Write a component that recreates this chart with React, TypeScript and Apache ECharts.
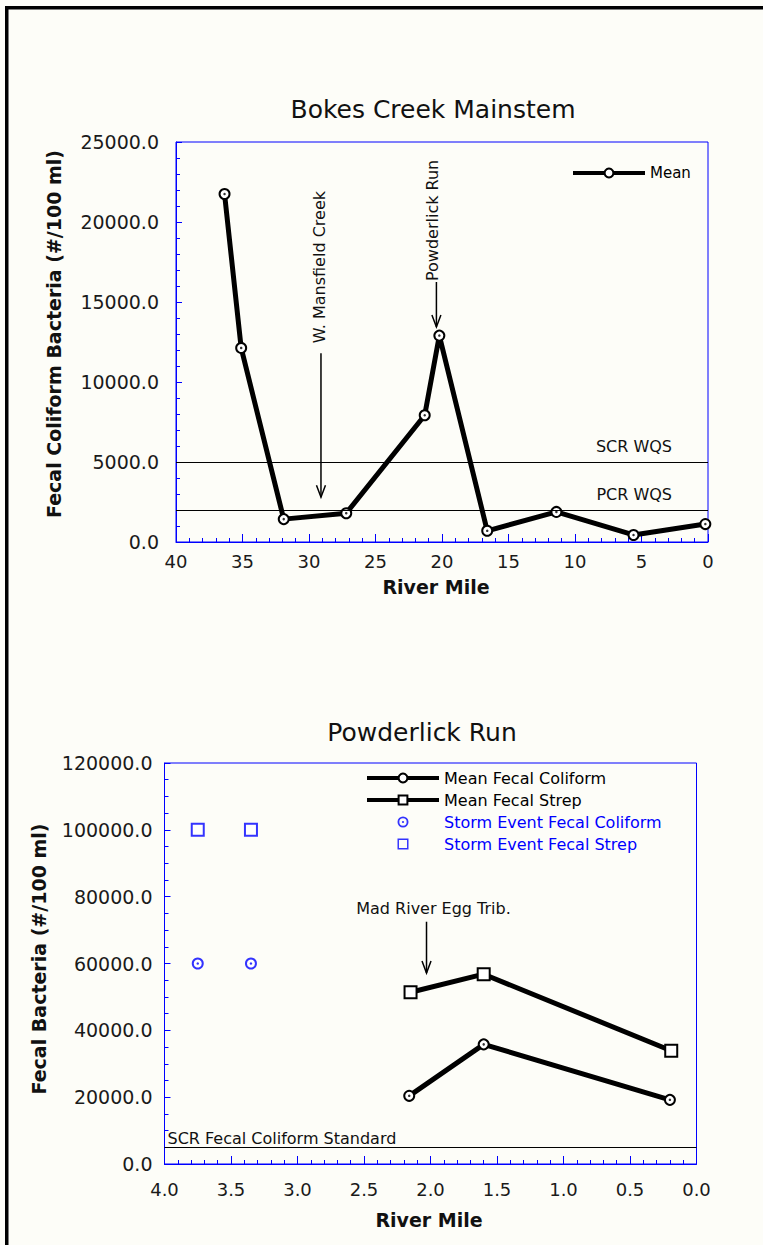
import React, { useEffect, useRef } from 'react';
import * as echarts from 'echarts';

const FONT = 'DejaVu Sans';
const BLUE = '#0000ff';
const BG = '#fdfdf8';

// ---- Top chart: Bokes Creek Mainstem ----
const topRiverMile = [36.35, 35.1, 31.9, 27.2, 21.3, 20.2, 16.6, 11.4, 5.6, 0.2];
const topMean = [21750, 12130, 1430, 1800, 7920, 12900, 700, 1880, 440, 1120];
const topStdNames = ['SCR WQS', 'PCR WQS'];
const topStdValues = [5000, 2000];
const topArrowLabels = ['W. Mansfield Creek', 'Powderlick Run'];
const topArrowMiles = [29.1, 20.42];
const topArrowFrom = [11800, 16250];
const topArrowTo = [2800, 13440];

// ---- Bottom chart: Powderlick Run ----
const fcRiverMile = [2.16, 1.6, 0.2];
const fcMean = [20400, 35800, 19200];
const fsRiverMile = [2.15, 1.6, 0.19];
const fsMean = [51400, 56800, 33900];
const stormFcRiverMile = [3.75, 3.35];
const stormFc = [60000, 60000];
const stormFsRiverMile = [3.75, 3.35];
const stormFs = [100000, 100000];
const botStdName = 'SCR Fecal Coliform Standard';
const botStdValue = 5000;
const botArrowLabel = 'Mad River Egg Trib.';
const botArrowMile = 2.03;
const botArrowFrom = 72500;
const botArrowTo = 57150;

const SQUARE_ICON = 'path://M0,0H12V12H0Z M1.6,1.6V10.4H10.4V1.6Z';
const RING_DOT_ICON = 'path://M6,0A6,6 0 1,1 6,12A6,6 0 1,1 6,0Z M6,2A4,4 0 1,0 6,10A4,4 0 1,0 6,2Z M6,4.8A1.2,1.2 0 1,1 6,7.2A1.2,1.2 0 1,1 6,4.8Z';

const zip = (a: number[], b: number[]) => a.map((v, i) => [v, b[i]]);

const axisCommon = (gridIndex: number, tickLen: number, labelMargin: number, fmt: (v: number) => string, fontSize: number) => ({
  type: 'value' as const,
  gridIndex,
  axisLine: { show: true, onZero: false, lineStyle: { color: BLUE, width: 1 } },
  axisTick: { show: true, inside: true, length: tickLen, lineStyle: { color: BLUE, width: 1 } },
  minorTick: { show: true, length: 4, lineStyle: { color: BLUE, width: 1 } },
  splitLine: { show: false },
  minorSplitLine: { show: false },
  axisLabel: {
    margin: labelMargin,
    fontFamily: FONT,
    fontSize,
    color: '#1a1a1a',
    formatter: fmt,
  },
});

export default function App() {
  const ref = useRef<HTMLDivElement>(null);
  useEffect(() => {
    if (!ref.current) return;
    const chart = echarts.init(ref.current, undefined, { renderer: 'svg' });
    const top = { left: 176, top: 142, width: 532, height: 400 };
    const bot = { left: 164.5, top: 763, width: 532, height: 401 };
    const xTop = axisCommon(0, 8, 10, (v) => String(v), 18);
    const yTop = axisCommon(0, 6, 17, (v) => v.toFixed(1), 19);
    const xBot = axisCommon(1, 8, 16, (v) => v.toFixed(1), 18);
    const yBot = axisCommon(1, 6, 12, (v) => v.toFixed(1), 19);
    const option: any = {
      animation: false,
      backgroundColor: BG,
      grid: [
        { ...top, show: true, borderColor: BLUE, borderWidth: 1, backgroundColor: 'transparent' },
        { ...bot, show: true, borderColor: BLUE, borderWidth: 1, backgroundColor: 'transparent' },
      ],
      xAxis: [
        { ...xTop, min: 0, max: 40, interval: 5, inverse: true, minorTick: { ...xTop.minorTick, splitNumber: 5 } },
        { ...xBot, min: 0, max: 4, interval: 0.5, inverse: true, minorTick: { ...xBot.minorTick, splitNumber: 5 } },
      ],
      yAxis: [
        { ...yTop, min: 0, max: 25000, interval: 5000, minorTick: { ...yTop.minorTick, splitNumber: 5 } },
        { ...yBot, min: 0, max: 120000, interval: 20000, minorTick: { ...yBot.minorTick, splitNumber: 4 } },
      ],
      legend: [
        {
          left: 571, top: 165, padding: 0, itemWidth: 72, itemHeight: 11, itemGap: 6,
          data: ['Mean'],
          lineStyle: { width: 4 },
          textStyle: { fontFamily: FONT, fontSize: 15, color: '#000', lineHeight: 16 },
        },
        {
          left: 365, top: 770, padding: 0, orient: 'vertical', itemWidth: 72, itemHeight: 11, itemGap: 6,
          lineStyle: { width: 4 },
          data: [
            { name: 'Mean Fecal Coliform', textStyle: { color: '#000' } },
            { name: 'Mean Fecal Strep', textStyle: { color: '#000' } },
            { name: 'Storm Event Fecal Coliform', icon: RING_DOT_ICON, itemStyle: { color: BLUE, borderWidth: 0 }, textStyle: { color: BLUE } },
            { name: 'Storm Event Fecal Strep', icon: SQUARE_ICON, itemStyle: { color: BLUE, borderWidth: 0 }, textStyle: { color: BLUE } },
          ],
          textStyle: { fontFamily: FONT, fontSize: 16, lineHeight: 16 },
        },
      ],
      series: [
        {
          name: 'Mean', type: 'line', xAxisIndex: 0, yAxisIndex: 0,
          data: zip(topRiverMile, topMean),
          symbol: 'emptyCircle', symbolSize: 10,
          lineStyle: { color: '#000', width: 5 },
          itemStyle: { color: '#000', borderWidth: 1.5 },
          markLine: {
            silent: true, symbol: ['none', 'none'], label: { show: false },
            lineStyle: { color: '#000', width: 1, type: 'solid' },
            data: topStdValues.map((v) => ({ yAxis: v })),
          },
          z: 3,
        },
        {
          name: 'meanDot', type: 'scatter', xAxisIndex: 0, yAxisIndex: 0,
          data: zip(topRiverMile, topMean), symbol: 'circle', symbolSize: 2.5,
          itemStyle: { color: '#000' }, silent: true, z: 5,
        },
        {
          name: 'Mean Fecal Coliform', type: 'line', xAxisIndex: 1, yAxisIndex: 1,
          data: zip(fcRiverMile, fcMean),
          symbol: 'emptyCircle', symbolSize: 10,
          lineStyle: { color: '#000', width: 5 },
          itemStyle: { color: '#000', borderWidth: 1.5 },
          markLine: {
            silent: true, symbol: ['none', 'none'], label: { show: false },
            lineStyle: { color: '#000', width: 1, type: 'solid' },
            data: [{ yAxis: botStdValue }],
          },
          z: 3,
        },
        {
          name: 'fcDot', type: 'scatter', xAxisIndex: 1, yAxisIndex: 1,
          data: zip(fcRiverMile, fcMean), symbol: 'circle', symbolSize: 2.5,
          itemStyle: { color: '#000' }, silent: true, z: 5,
        },
        {
          name: 'Mean Fecal Strep', type: 'line', xAxisIndex: 1, yAxisIndex: 1,
          data: zip(fsRiverMile, fsMean),
          symbol: 'emptyRect', symbolSize: 12,
          lineStyle: { color: '#000', width: 5 },
          itemStyle: { color: '#000', borderWidth: 1.5 },
          z: 3,
        },
        {
          name: 'Storm Event Fecal Coliform', type: 'scatter', xAxisIndex: 1, yAxisIndex: 1,
          data: zip(stormFcRiverMile, stormFc),
          symbol: 'emptyCircle', symbolSize: 10,
          itemStyle: { color: BLUE, borderWidth: 2 },
          z: 3,
        },
        {
          name: 'stormFcDot', type: 'scatter', xAxisIndex: 1, yAxisIndex: 1,
          data: zip(stormFcRiverMile, stormFc), symbol: 'circle', symbolSize: 2.5,
          itemStyle: { color: BLUE }, silent: true, z: 5,
        },
        {
          name: 'Storm Event Fecal Strep', type: 'scatter', xAxisIndex: 1, yAxisIndex: 1,
          data: zip(stormFsRiverMile, stormFs),
          symbol: 'emptyRect', symbolSize: 12,
          itemStyle: { color: BLUE, borderWidth: 1.5 },
          z: 3,
        },
      ],
    };
    chart.setOption(option);

    const px = (g: number, x: number, y: number) => chart.convertToPixel({ gridIndex: g } as any, [x, y]) as number[];
    const graphics: any[] = [
      { type: 'rect', shape: { x: 5, y: 6, width: 3.5, height: 1245 }, style: { fill: '#000' }, silent: true },
      { type: 'rect', shape: { x: 5, y: 6, width: 763, height: 3.5 }, style: { fill: '#000' }, silent: true },
      { type: 'text', x: 433, y: 109, style: { text: 'Bokes Creek Mainstem', fontFamily: FONT, fontSize: 25, fill: '#111', align: 'center', verticalAlign: 'middle' } },
      { type: 'text', x: 422, y: 732, style: { text: 'Powderlick Run', fontFamily: FONT, fontSize: 25, fill: '#111', align: 'center', verticalAlign: 'middle' } },
      { type: 'text', x: 54, y: 334, rotation: Math.PI / 2, style: { text: 'Fecal Coliform Bacteria (#/100 ml)', fontFamily: FONT, fontWeight: 'bold', fontSize: 19, fill: '#111', align: 'center', verticalAlign: 'middle' } },
      { type: 'text', x: 39, y: 959, rotation: Math.PI / 2, style: { text: 'Fecal Bacteria (#/100 ml)', fontFamily: FONT, fontWeight: 'bold', fontSize: 19, fill: '#111', align: 'center', verticalAlign: 'middle' } },
      { type: 'text', x: 436, y: 587, style: { text: 'River Mile', fontFamily: FONT, fontWeight: 'bold', fontSize: 19, fill: '#111', align: 'center', verticalAlign: 'middle' } },
      { type: 'text', x: 429, y: 1220, style: { text: 'River Mile', fontFamily: FONT, fontWeight: 'bold', fontSize: 19, fill: '#111', align: 'center', verticalAlign: 'middle' } },
    ];

    const addArrow = (g: number, mile: number, from: number, to: number) => {
      const [x, y1] = px(g, mile, from);
      const [, y2] = px(g, mile, to);
      graphics.push({ type: 'line', shape: { x1: x, y1, x2: x, y2 }, style: { stroke: '#000', lineWidth: 1.5 }, silent: true });
      graphics.push({ type: 'polyline', shape: { points: [[x - 4.5, y2 - 12], [x, y2], [x + 4.5, y2 - 12]] }, style: { stroke: '#000', lineWidth: 1.5, fill: 'none' }, silent: true });
      return [x, y1];
    };

    topArrowLabels.forEach((label, i) => {
      const [x, y1] = addArrow(0, topArrowMiles[i], topArrowFrom[i], topArrowTo[i]);
      const gap = i === 0 ? 10 : 1;
      const dx = i === 0 ? -1.5 : -3.5;
      graphics.push({ type: 'text', x: x + dx, y: y1 - gap, rotation: Math.PI / 2, style: { text: label, fontFamily: FONT, fontSize: 16, fill: '#111', align: 'left', verticalAlign: 'middle' } });
    });

    {
      const [x, y1] = addArrow(1, botArrowMile, botArrowFrom, botArrowTo);
      graphics.push({ type: 'text', x: x + 7, y: y1 - 13, style: { text: botArrowLabel, fontFamily: FONT, fontSize: 16, fill: '#111', align: 'center', verticalAlign: 'middle' } });
    }

    topStdNames.forEach((name, i) => {
      const [xr, y] = px(0, 0, topStdValues[i]);
      graphics.push({ type: 'text', x: xr - 36, y: y - 16, style: { text: name, fontFamily: FONT, fontSize: 16, fill: '#111', align: 'right', verticalAlign: 'middle' } });
    });
    {
      const [xl, y] = px(1, 4, botStdValue);
      graphics.push({ type: 'text', x: xl + 3, y: y - 9, style: { text: botStdName, fontFamily: FONT, fontSize: 16, fill: '#111', align: 'left', verticalAlign: 'middle' } });
    }

    chart.setOption({ graphic: graphics });
    return () => chart.dispose();
  }, []);
  return <div ref={ref} style={{ position: 'fixed', left: 0, top: 0, width: 763, height: 1245 }} />;
}
